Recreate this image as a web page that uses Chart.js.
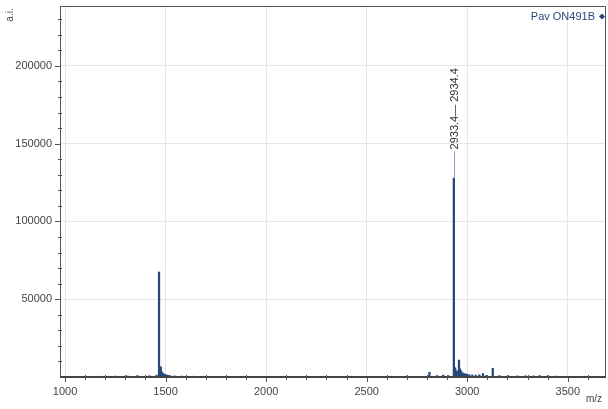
<!DOCTYPE html>
<html>
<head>
<meta charset="utf-8">
<script src="https://cdn.jsdelivr.net/npm/chart.js@4/dist/chart.umd.min.js"></script>
<style>
  html, body { margin: 0; padding: 0; background: #ffffff; }
  #wrap { width: 608px; height: 409px; }
</style>
</head>
<body>
<div id="wrap"><canvas id="c" width="608" height="409"></canvas></div>
<script>
// Spectrum peaks: m/z positions and intensities (a.i.)
const peakMz = [
  1180, 1250, 1310, 1360, 1420, 1455,
  1467.5, 1472, 1476, 1480, 1484, 1490, 1496, 1503, 1512, 1522, 1545, 1580, 1640,
  2700, 2812, 2850, 2880, 2905,
  2933.4, 2940, 2948, 2959, 2964, 2970, 2978, 2988, 2998, 3010, 3025, 3042, 3060, 3078, 3095,
  3127, 3160, 3205, 3250, 3290, 3330, 3360, 3400, 3440
];
const peakIntensity = [
  500, 600, 700, 900, 800, 1200,
  67500, 4200, 6600, 3500, 2600, 2000, 1700, 1400, 1100, 900, 700, 600, 500,
  600, 3000, 900, 1200, 900,
  127800, 6000, 4000, 10900, 5200, 3800, 2600, 2200, 1800, 1500, 1300, 1200, 1400, 2200, 1000,
  5600, 900, 800, 700, 800, 700, 900, 700, 600
];

// Labelled peak
const labelMz = 2933.4;
const labelTop = 145000;
const labelText = '2933.4\u2014 2934.4';

// Axis ticks
const xMajorTicks = [1000, 1500, 2000, 2500, 3000, 3500];
const yMajorTicks = [50000, 100000, 150000, 200000];
const seriesName = 'Pav ON491B';

const FONT = '"Liberation Sans", Arial, sans-serif';
const INK = '#27477a';

const isMajor = (list, c) => !!(c && c.tick && list.includes(c.tick.value));

const decor = {
  id: 'decor',
  afterDraw(chart) {
    const { ctx, chartArea: a, scales: { x, y } } = chart;
    ctx.save();

    // frame
    ctx.strokeStyle = '#555';
    ctx.lineWidth = 1;
    ctx.beginPath();
    ctx.moveTo(a.left + 0.5, a.bottom);
    ctx.lineTo(a.left + 0.5, a.top + 0.5);
    ctx.lineTo(a.right - 0.5, a.top + 0.5);
    ctx.lineTo(a.right - 0.5, a.bottom);
    ctx.stroke();
    ctx.lineWidth = 2;
    ctx.strokeStyle = '#444';
    ctx.beginPath();
    ctx.moveTo(a.left, a.bottom);
    ctx.lineTo(a.right, a.bottom);
    ctx.stroke();

    // tick marks
    ctx.lineWidth = 1;
    ctx.strokeStyle = '#555';
    x.ticks.forEach(t => {
      const px = Math.round(x.getPixelForValue(t.value)) + 0.5;
      const major = xMajorTicks.includes(t.value);
      ctx.beginPath();
      ctx.moveTo(px, a.bottom - (major ? 0 : 2));
      ctx.lineTo(px, a.bottom + (major ? 5 : 3));
      ctx.stroke();
    });
    y.ticks.forEach(t => {
      if (t.value === 0) return;
      const py = Math.round(y.getPixelForValue(t.value)) + 0.5;
      const major = yMajorTicks.includes(t.value);
      ctx.beginPath();
      ctx.moveTo(a.left - (major ? 5 : 2), py);
      ctx.lineTo(a.left + (major ? 0 : 2), py);
      ctx.stroke();
    });

    // leader line and label for the main peak
    const i = peakMz.indexOf(labelMz);
    const lx = Math.round(x.getPixelForValue(labelMz)) + 0.5;
    const topPeak = y.getPixelForValue(peakIntensity[i]);
    const topLabel = y.getPixelForValue(labelTop);
    ctx.strokeStyle = '#8a9fbd';
    ctx.lineWidth = 1;
    ctx.beginPath();
    ctx.moveTo(lx, topPeak);
    ctx.lineTo(lx, topLabel);
    ctx.stroke();
    ctx.translate(lx, topLabel - 2);
    ctx.rotate(-Math.PI / 2);
    ctx.fillStyle = '#333';
    ctx.font = '11px ' + FONT;
    ctx.textAlign = 'left';
    ctx.textBaseline = 'middle';
    ctx.fillText(labelText, 0, 0);
    ctx.setTransform(1, 0, 0, 1, 0, 0);

    // series name with marker
    ctx.font = '11px ' + FONT;
    ctx.fillStyle = INK;
    ctx.textAlign = 'right';
    ctx.textBaseline = 'middle';
    ctx.fillText(seriesName, a.right - 11, a.top + 11);
    const dx = a.right - 4, dy = a.top + 10.5;
    ctx.beginPath();
    ctx.moveTo(dx, dy - 3);
    ctx.lineTo(dx + 3, dy);
    ctx.lineTo(dx, dy + 3);
    ctx.lineTo(dx - 3, dy);
    ctx.closePath();
    ctx.fill();

    // axis titles
    ctx.fillStyle = '#444';
    ctx.font = '10px ' + FONT;
    ctx.textAlign = 'right';
    ctx.textBaseline = 'middle';
    ctx.fillText('m/z', 602, 399);
    ctx.translate(10, 15);
    ctx.rotate(-Math.PI / 2);
    ctx.textAlign = 'center';
    ctx.fillText('a.i.', 0, 0);
    ctx.restore();
  }
};

new Chart(document.getElementById('c'), {
  type: 'bar',
  data: {
    datasets: [{
      label: seriesName,
      data: peakMz.map((m, k) => ({ x: m, y: peakIntensity[k] })),
      backgroundColor: INK,
      borderWidth: 0,
      barThickness: 1.6,
      grouped: false
    }]
  },
  options: {
    responsive: false,
    animation: false,
    layout: { padding: { top: 6, right: 2, left: 0, bottom: 0 } },
    plugins: { legend: { display: false }, tooltip: { enabled: false } },
    scales: {
      x: {
        type: 'linear',
        offset: false,
        min: 975,
        max: 3690,
        afterBuildTicks(s) {
          const t = [];
          for (let v = 1000; v <= 3600; v += 100) t.push({ value: v });
          s.ticks = t;
        },
        afterFit(s) { s.height = 32; s.paddingLeft = 0; s.paddingRight = 0; },
        border: { display: false },
        grid: {
          offset: false,
          drawTicks: false,
          color: c => isMajor(xMajorTicks, c) ? '#e6e6e6' : 'rgba(0,0,0,0)'
        },
        ticks: {
          padding: 8,
          autoSkip: false,
          maxRotation: 0,
          color: '#444',
          font: { family: FONT, size: 11 },
          callback: v => xMajorTicks.includes(v) ? String(v) : ''
        }
      },
      y: {
        type: 'linear',
        min: 0,
        max: 238500,
        afterBuildTicks(s) {
          const t = [];
          for (let v = 0; v <= 230000; v += 10000) t.push({ value: v });
          s.ticks = t;
        },
        afterFit(s) { s.width = 60; s.paddingTop = 0; s.paddingBottom = 0; },
        border: { display: false },
        grid: {
          drawTicks: false,
          color: c => isMajor(yMajorTicks, c) ? '#e6e6e6' : 'rgba(0,0,0,0)'
        },
        ticks: {
          padding: 8,
          autoSkip: false,
          color: '#444',
          font: { family: FONT, size: 11 },
          callback: v => yMajorTicks.includes(v) ? String(v) : ''
        }
      }
    }
  },
  plugins: [decor]
});
</script>
</body>
</html>
